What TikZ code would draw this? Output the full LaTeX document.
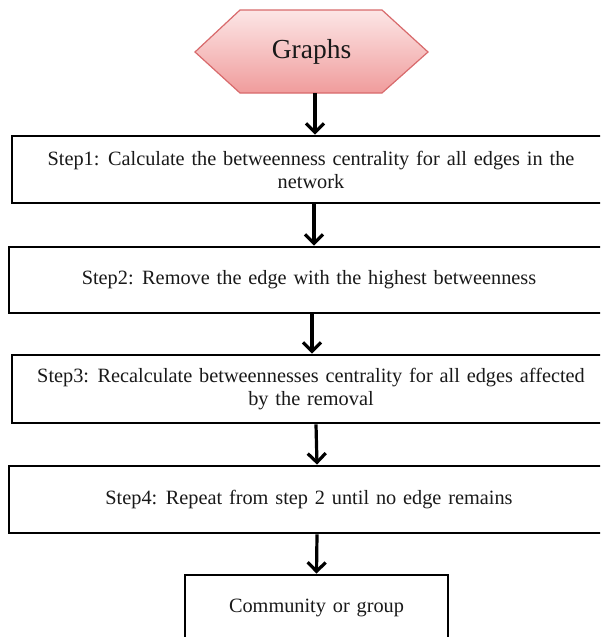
\documentclass[tikz,border=0pt]{standalone}
\usepackage{fontspec}
\setmainfont{Liberation Serif}[WordSpace=1.35]
\usetikzlibrary{arrows.meta}
\definecolor{hexfillA}{HTML}{FCE6E6}
\definecolor{hexfillB}{HTML}{F09C9C}
\definecolor{hexline}{HTML}{D86A6C}
\tikzset{
  stepbox/.style={draw=black, line width=2.8pt, rectangle, inner sep=0pt,
    align=center, font=\fontsize{20.3}{23}\selectfont, text=black!90},
  arr/.style={line width=3.2pt, -{Straight Barb[length=9pt,width=18pt,line width=3.2pt]}},
}
\begin{document}
\begin{tikzpicture}[x=1pt,y=-1pt]
\useasboundingbox (0,0) rectangle (600,637);
\clip (0,0) rectangle (600,637);
\fill[white] (0,0) rectangle (600,637);
% hexagon
\path[draw=hexline, line width=1.2pt, top color=hexfillA, bottom color=hexfillB]
  (195,52) -- (240,10) -- (382,10) -- (428,52) -- (382,93) -- (240,93) -- cycle;
\node[minimum width=233pt, minimum height=83pt, inner sep=0pt,
      font=\fontsize{27.5}{30}\selectfont, text=black!90] (hex) at (311.5,51.5) {Graphs};
% boxes
\node[stepbox, minimum width=598pt, minimum height=67pt] (b1) at (311,169.5)
  {Step1: Calculate the betweenness centrality for all edges in the\\ network};
\node[stepbox, minimum width=600pt, minimum height=66pt] (b2) at (309,280)
  {Step2: Remove the edge with the highest betweenness};
\node[stepbox, minimum width=598pt, minimum height=68pt] (b3) at (311,389)
  {Step3: Recalculate betweennesses centrality for all edges affected\\ by the removal};
\node[stepbox, minimum width=600pt, minimum height=67pt] (b4) at (309,499.5)
  {Step4: Repeat from step 2 until no edge remains};
\node[stepbox, minimum width=263pt, minimum height=66pt] (b5) at (316.5,608)
  {Community or group};
% arrows
\draw[arr] ([xshift=3.5pt]hex.south) -- ([xshift=4pt]b1.north);
\draw[arr] ([xshift=3pt]b1.south) -- ([xshift=5pt]b2.north);
\draw[arr] ([xshift=3pt]b2.south) -- ([xshift=1pt]b3.north);
\draw[arr] ([xshift=5pt]b3.south) -- ([xshift=8pt]b4.north);
\draw[arr] ([xshift=8pt]b4.south) -- ([xshift=0pt]b5.north);
\end{tikzpicture}
\end{document}
